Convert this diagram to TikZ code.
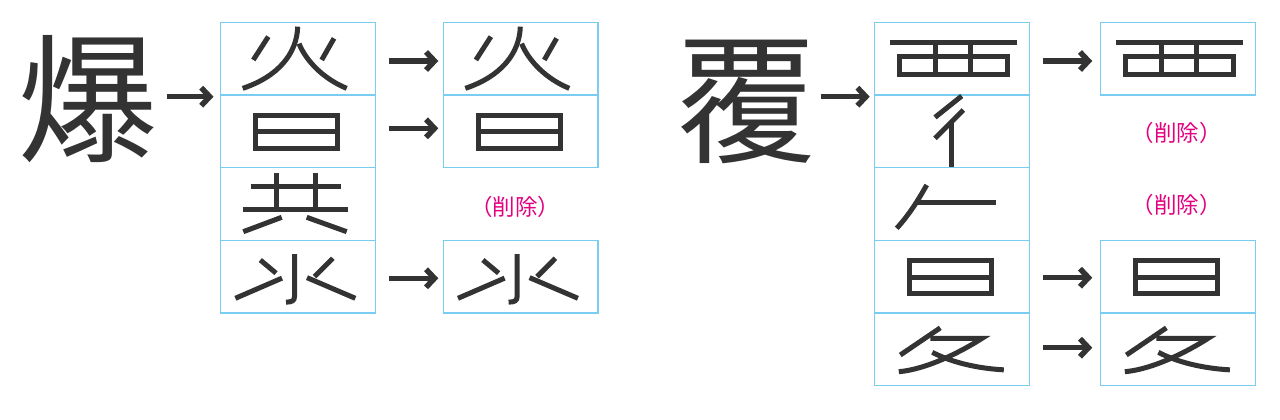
\documentclass[tikz,border=0pt]{standalone}
\usepackage{fontspec}
\newfontfamily\cjk{Noto Sans CJK JP}
\usetikzlibrary{arrows.meta,calc}
\definecolor{ink}{HTML}{333333}
\definecolor{boxblue}{RGB}{120,205,240}
\definecolor{pinkred}{HTML}{E4007F}
\tikzset{
  cell/.style={draw=boxblue, line width=1.2pt, minimum width=154.6pt, minimum height=72.7pt, inner sep=0pt, outer sep=0pt},
  glyphline/.style={draw=ink, line width=5pt, line cap=butt},
  arr/.style={draw=ink, line width=5.5pt, -{Straight Barb[length=8.5pt,width=18pt]}},
  big/.style={text=ink, font=\cjk\fontsize{140}{140}\selectfont, inner sep=0pt},
  note/.style={text=pinkred, font=\cjk\fontsize{22.5}{24}\selectfont, inner sep=0pt},
  gHuo/.pic={
    \draw[glyphline] (-29.7,-22) -- (-44.7,1.3);
    \draw[glyphline] (36,-20.3) -- (23.7,1.3);
    \draw[glyphline] (-0.3,-32) .. controls (-1,-5) and (-20,18) .. (-55.3,29.7);
    \draw[glyphline] (1,-15) .. controls (8,2) and (25,20) .. (48.7,29.7);
  },
  gRi/.pic={
    \draw[glyphline] (-42.4,-16.2) rectangle (39.9,16.7);
    \draw[glyphline] (-42.4,0.4) -- (39.9,0.4);
  },
  gGong/.pic={
    \draw[glyphline] (-22,-30.7) -- (-22,5.3);
    \draw[glyphline] (17,-30.7) -- (17,5.3);
    \draw[glyphline] (-47.3,-17.3) -- (43,-17.3);
    \draw[glyphline] (-55.3,5.3) -- (50.3,5.3);
    \draw[glyphline] (-16.3,13.3) -- (-54.7,27.7);
    \draw[glyphline] (8.7,13.3) -- (48.7,27.7);
  },
  gShui/.pic={
    \draw[glyphline] (-3.5,-22.5) -- (-3.5,20) .. controls (-3.5,24) and (-6,25.5) .. (-12,25.5);
    \draw[glyphline] (-37.7,-16.65) -- (-22,-3.5);
    \draw[glyphline] (-16,1.5) -- (-62.6,21.65);
    \draw[glyphline] (34.8,-18.35) -- (16.5,0);
    \draw[glyphline] (9,1) -- (57.3,21.65);
  },
  gXi/.pic={
    \draw[glyphline] (-61.5,-15.8) -- (65,-15.8);
    \draw[glyphline] (-52,-2.5) rectangle (56,15.7);
    \draw[glyphline] (-16.5,-15.8) -- (-16.5,15.7);
    \draw[glyphline] (18.4,-15.8) -- (18.4,15.7);
  },
  gChi/.pic={
    \draw[glyphline] (9.9,-35.35) -- (-16.8,-14);
    \draw[glyphline] (11.5,-21.35) -- (-16.8,7);
    \draw[glyphline] (0,-10) -- (0,35.35);
  },
  gRen/.pic={
    \draw[glyphline] (-25.1,-19) .. controls (-33,-5) and (-42,10) .. (-55.1,24.3);
    \draw[glyphline] (-34,-1.3) -- (44.2,-1.3);
  },
  gSui/.pic={
    \draw[glyphline] (-11.5,-21.5) -- (-51.5,5.65);
    \draw[glyphline, line join=miter] (-21.5,-11) -- (30.2,-11) .. controls (10,2) and (-25,20) .. (-53,22.35);
    \draw[glyphline] (-19.5,3) .. controls (0,13) and (25,19) .. (52,20.5);
  }
}
\begin{document}
\begin{tikzpicture}[x=1pt,y=-1pt]
\fill[white] (0,0) rectangle (1280,420);
\useasboundingbox (0,0) rectangle (1280,420);

% left panel
\node[big] (bao) at (87.5,99) {爆};
\node[cell] (L1) at (298,58.65) {};
\node[cell] (L2) at (298,131.35) {};
\node[cell] (L3) at (298,204) {};
\node[cell] (L4) at (298,276.65) {};
\node[cell] (R1) at (520.6,58.65) {};
\node[cell] (R2) at (520.6,131.35) {};
\node[cell] (R4) at (520.6,276.65) {};
\pic at (L1.center) {gHuo};
\pic at (L2.center) {gRi};
\pic at (L3.center) {gGong};
\pic at (L4.center) {gShui};
\pic at (R1.center) {gHuo};
\pic at (R2.center) {gRi};
\pic at (R4.center) {gShui};
\node[note] (d1) at (515,206.7) {（削除）};

\draw[arr] ($(bao.east |- L1.south west)+(9.2,1.7)$) -- ($(L1.south west)+(-7.2,1.7)$);
\draw[arr] ($(L1.east)+(13.7,2.35)$) -- ($(R1.west)+(-5,2.35)$);
\draw[arr] ($(L2.east)+(13.7,-3)$) -- ($(R2.west)+(-5,-3)$);
\draw[arr] ($(L4.east)+(13.7,1.65)$) -- ($(R4.west)+(-5,1.65)$);

% right panel
\node[big] (fu) at (746,101.7) {覆};
\node[cell] (A1) at (951.8,58.65) {};
\node[cell] (A2) at (951.8,131.35) {};
\node[cell] (A3) at (951.8,204) {};
\node[cell] (A4) at (951.8,276.65) {};
\node[cell] (A5) at (951.8,349.35) {};
\node[cell] (B1) at (1177.85,58.65) {};
\node[cell] (B4) at (1177.85,276.65) {};
\node[cell] (B5) at (1177.85,349.35) {};
\pic at (A1.center) {gXi};
\pic at (A2.center) {gChi};
\pic at (A3.center) {gRen};
\pic at (A4.center) {gRi};
\pic at (A5.center) {gSui};
\pic at (B1.center) {gXi};
\pic at (B4.center) {gRi};
\pic at (B5.center) {gSui};
\node[note] (d2) at (1176.7,133.3) {（削除）};
\node[note] (d3) at (1176.7,205) {（削除）};

\draw[arr] ($(fu.east |- A1.south west)+(4.7,1.7)$) -- ($(A1.south west)+(-4.8,1.7)$);
\draw[arr] ($(A1.east)+(14,2.35)$) -- ($(B1.west)+(-8.3,2.35)$);
\draw[arr] ($(A4.east)+(14,1.05)$) -- ($(B4.west)+(-8.3,1.05)$);
\draw[arr] ($(A5.east)+(14,-1.65)$) -- ($(B5.west)+(-8.3,-1.65)$);
\end{tikzpicture}
\end{document}
